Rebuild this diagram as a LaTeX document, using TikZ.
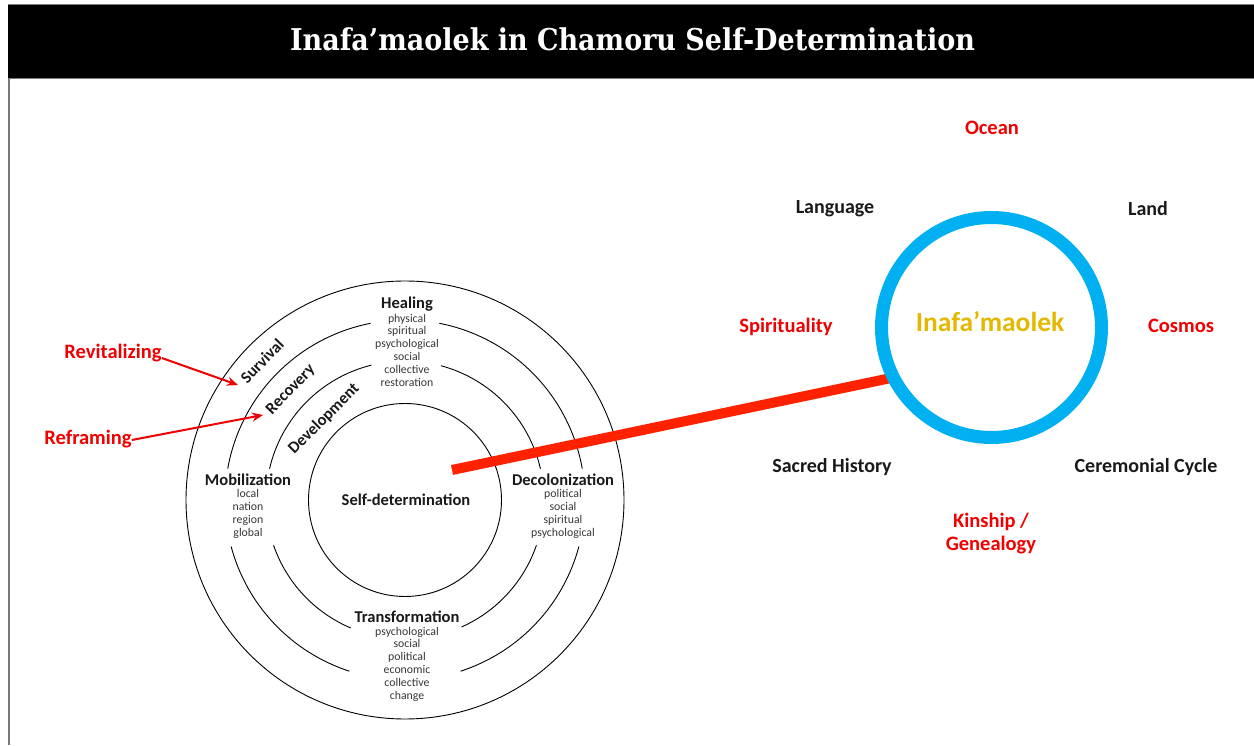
\documentclass[tikz,border=0pt]{standalone}
\usepackage{fontspec}
\setmainfont{Carlito}
\newfontfamily\titlefont{DejaVu Serif Condensed}[BoldFont={DejaVu Serif Condensed Bold}]
\usetikzlibrary{arrows.meta}
\definecolor{lblred}{RGB}{240,0,0}
\definecolor{barred}{RGB}{255,34,0}
\definecolor{ringblue}{RGB}{0,176,240}
\definecolor{gold}{RGB}{228,184,0}
\definecolor{ink}{RGB}{25,25,25}
\definecolor{subgray}{RGB}{55,55,55}
\definecolor{framegray}{RGB}{120,120,120}
\tikzset{
  head/.style={font=\fontsize{16.5}{18}\selectfont\bfseries, text=ink, inner sep=0pt},
  sub/.style={font=\fontsize{11.8}{12.8}\selectfont, text=subgray, align=center, inner sep=0pt},
  redlbl/.style={font=\fontsize{20.5}{23}\selectfont\bfseries, text=lblred, inner sep=0pt, align=center},
  blklbl/.style={font=\fontsize{20}{23}\selectfont\bfseries, text=ink, inner sep=0pt},
  ring/.style={line width=0.9pt, draw=black},
  redarrow/.style={draw=lblred, line width=2pt, -{Stealth[length=11pt,width=9pt]}},
}
\begin{document}
\begin{tikzpicture}[x=1pt,y=1pt]
\useasboundingbox (0,0) rectangle (1254,745);
% header bar
\fill[black] (8,666) rectangle (1254,740);
\draw[framegray, line width=1pt] (8,740) -- (1254,740);
\draw[framegray, line width=1pt] (8,666) -- (1254,666);
\draw[framegray, line width=2pt] (9,666) -- (9,0);
\node[font=\titlefont\fontsize{30}{32}\selectfont\bfseries, text=white, anchor=base, inner sep=0pt] (title) at (632.5,694) {Inafa’maolek in Chamoru Self-Determination};

% concentric rings
\coordinate (C) at (405,245);
\draw[ring] (C) circle[radius=219];
\draw[ring] (C) circle[radius=96.5];
% ring 2 (R=180)
\draw[ring] (C) ++(10:180) arc[start angle=10, end angle=79, radius=180];
\draw[ring] (C) ++(101:180) arc[start angle=101, end angle=170, radius=180];
\draw[ring] (C) ++(195:180) arc[start angle=195, end angle=252, radius=180];
\draw[ring] (C) ++(288:180) arc[start angle=288, end angle=345, radius=180];
% ring 3 (R=139)
\draw[ring] (C) ++(13:139) arc[start angle=13, end angle=75, radius=139];
\draw[ring] (C) ++(104:139) arc[start angle=104, end angle=167, radius=139];
\draw[ring] (C) ++(199:139) arc[start angle=199, end angle=247, radius=139];
\draw[ring] (C) ++(294:139) arc[start angle=294, end angle=341, radius=139];

% ring labels
\node[head] (heal) at (407,441) {Healing};
\node[sub] (healsub) at (407,395) {physical\\spiritual\\psychological\\social\\collective\\restoration};
\node[head] (mob) at (248,265) {Mobilization};
\node[sub] (mobsub) at (248,231) {local\\nation\\region\\global};
\node[head] (decol) at (563,265) {Decolonization};
\node[sub] (decolsub) at (563,231) {political\\social\\spiritual\\psychological};
\node[head] (selfdet) at (406,245) {Self-determination};
\node[head] (trans) at (407,128) {Transformation};
\node[sub] (transsub) at (407,81) {psychological\\social\\political\\economic\\collective\\change};
\node[head, rotate=46] (surv) at (262,384) {Survival};
\node[head, rotate=46] (recov) at (291,355) {Recovery};
\node[head, rotate=45] (devel) at (324,326) {Development};

% red labels with arrows
\node[redlbl] (revit) at (113,392) {Revitalizing};
\node[redlbl] (refram) at (88,306) {Reframing};
\coordinate (survtip) at (238,360);
\coordinate (recovtip) at (263,330);
\draw[redarrow] (revit.east) ++(0,-5) -- (survtip);
\draw[redarrow] (refram.east) ++(0,-1) -- (recovtip);

% Inafa'maolek circle and link
\node[circle, minimum size=220pt, inner sep=0pt] (inaf) at (991.5,417.5) {};
\coordinate (linkstart) at (452,275);
\draw[barred, line width=10pt] (linkstart) -- (inaf.207);
\draw[ringblue, line width=13pt] (inaf.center) circle[radius=110];
\node[font=\fontsize{27.5}{30}\selectfont\bfseries, text=gold, inner sep=0pt] (inaftxt) at (990,423) {Inafa’maolek};

% surrounding labels
\node[redlbl] (ocean) at (992,617) {Ocean};
\node[blklbl] (lang) at (835,536) {Language};
\node[blklbl] (land) at (1148,536) {Land};
\node[redlbl] (spirit) at (786,418) {Spirituality};
\node[redlbl] (cosmos) at (1181,419) {Cosmos};
\node[blklbl] (sacred) at (832,278) {Sacred History};
\node[blklbl] (cerem) at (1146,278) {Ceremonial Cycle};
\node[redlbl] (kin) at (991,211) {Kinship /\\Genealogy};
\end{tikzpicture}
\end{document}
